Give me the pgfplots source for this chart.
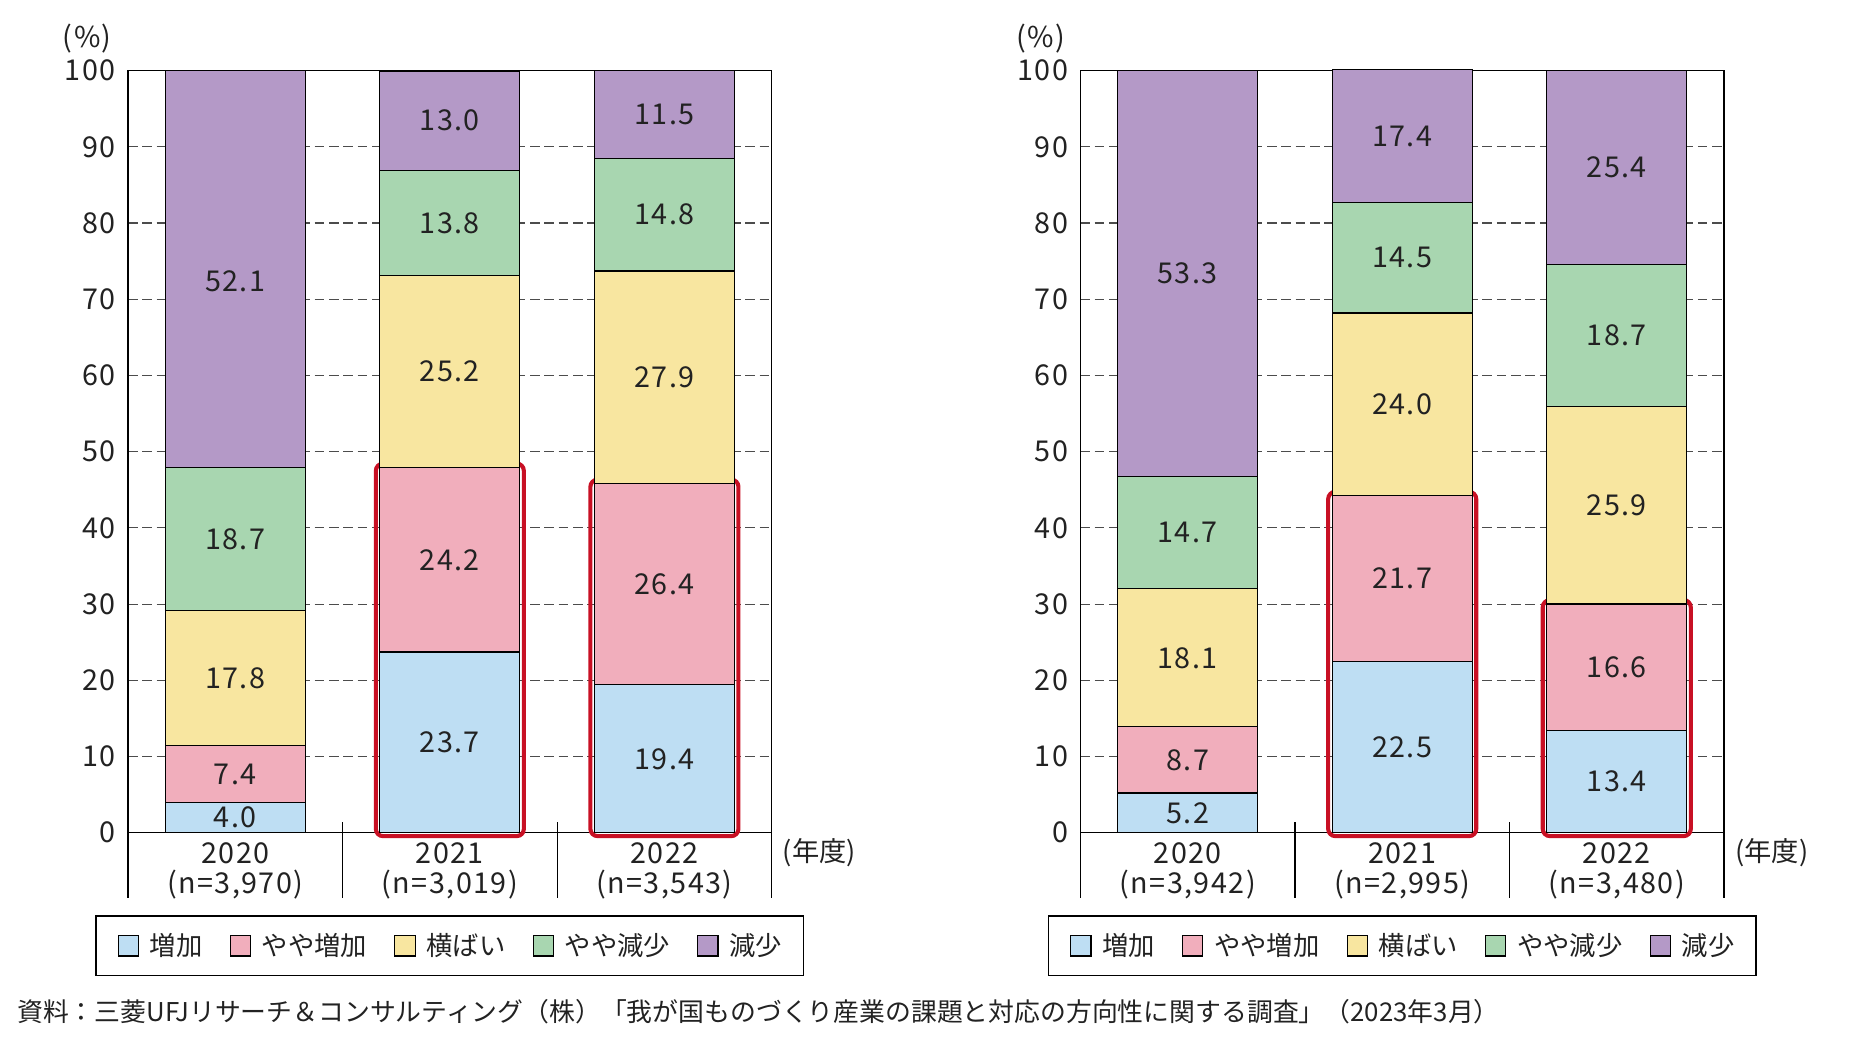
\documentclass[border=0pt]{standalone}
\usepackage{fontspec}
\setmainfont{Noto Sans CJK JP}
\newfontfamily\numfont[LetterSpace=5]{Noto Sans CJK JP}
\usepackage{pgfplots}
\pgfplotsset{compat=1.18}
\definecolor{cBlue}{HTML}{BEDEF3}
\definecolor{cPink}{HTML}{F1AEBC}
\definecolor{cYellow}{HTML}{F8E6A0}
\definecolor{cGreen}{HTML}{A8D6B0}
\definecolor{cPurple}{HTML}{B499C7}
\definecolor{cRed}{RGB}{200,16,36}
\definecolor{cText}{HTML}{222222}
\newcommand{\numfs}{\fontsize{12}{12.5}\numfont}
\tikzset{redbox/.style={draw=cRed, line width=1.7pt, rounded corners=3pt}}
\pgfplotsset{
  mystack/.style={
    scale only axis, width=269pt, height=318.5pt, anchor=south west,
    ybar stacked, bar width=58.5pt,
    xmin=-0.5, xmax=2.5, ymin=0, ymax=100,
    ytick={0,10,...,100}, xtick={0,1,2},
    major tick length=0pt,
    ymajorgrids, grid style={dash pattern=on 4pt off 2pt, line width=0.45pt, color=black!70},
    axis line style={line width=0.6pt},
    clip=false,
    /pgf/number format/assume math mode=true,
    yticklabel style={font=\numfs, text=cText, inner xsep=0pt, xshift=-5pt},
    xticklabel style={font=\numfs, text=cText, align=center, yshift=-0.5pt},
    every axis plot/.append style={draw=black, line width=0.5pt},
    legend columns=5,
    legend style={at={(0.5,-0.1484)}, anchor=center, draw=black, line width=0.6pt,
      font=\fontsize{11}{13}\selectfont, text=cText, inner xsep=9pt, inner ysep=5pt,
      nodes={inner xsep=0pt},
      /tikz/every odd column/.append style={column sep=4.5pt},
      /tikz/every even column/.append style={column sep=11.3pt}},
    legend image code/.code={\draw[#1, draw=black, line width=0.5pt] (0pt,-4.25pt) rectangle (8.5pt,4.25pt);},
    legend entries={増加,やや増加,横ばい,やや減少,減少},
  },
  labaxis/.style={
    scale only axis, width=269pt, height=318.5pt, anchor=south west,
    xmin=-0.5, xmax=2.5, ymin=0, ymax=100, hide axis, clip=false,
  },
  labplot/.style={
    only marks, mark=none, draw=none,
    nodes near coords, point meta=explicit symbolic,
    every node near coord/.append style={anchor=center, font=\numfs, text=cText, inner sep=0pt},
  },
}
\begin{document}
\begin{tikzpicture}
\useasboundingbox (0,0) rectangle (784pt,440.5pt);
% ---------------- left chart ----------------
\begin{axis}[mystack, at={(53.5pt,92.5pt)},
  xticklabels={{2020\\(n=3,970)},{2021\\(n=3,019)},{2022\\(n=3,543)}}]
\addplot[fill=cBlue] coordinates {(0,4.0) (1,23.7) (2,19.4)};
\addplot[fill=cPink] coordinates {(0,7.4) (1,24.2) (2,26.4)};
\addplot[fill=cYellow] coordinates {(0,17.8) (1,25.2) (2,27.9)};
\addplot[fill=cGreen] coordinates {(0,18.7) (1,13.8) (2,14.8)};
\addplot[fill=cPurple] coordinates {(0,52.1) (1,13.0) (2,11.5)};
\draw[line width=0.6pt] (axis cs:-0.5,0) -- (axis cs:-0.5,-8.57);
\draw[line width=0.6pt] (axis cs:2.5,0) -- (axis cs:2.5,-8.57);
\draw[line width=0.5pt] (axis cs:0.5,1.4) -- (axis cs:0.5,-8.57);
\draw[line width=0.5pt] (axis cs:1.5,1.4) -- (axis cs:1.5,-8.57);
\draw[redbox] (axis cs:0.655,-0.45) rectangle (axis cs:1.345,48.43);
\draw[redbox] (axis cs:1.655,-0.45) rectangle (axis cs:2.345,46.33);
\end{axis}
\begin{axis}[labaxis, at={(53.5pt,92.5pt)}]
\addplot[labplot] table[meta=lab] {
x y lab
0 2.0 4.0
0 7.7 7.4
0 20.3 17.8
0 38.55 18.7
0 72.4 52.1
1 11.85 23.7
1 35.8 24.2
1 60.5 25.2
1 80.0 13.8
1 93.5 13.0
2 9.7 19.4
2 32.6 26.4
2 59.75 27.9
2 81.1 14.8
2 94.25 11.5
};
\end{axis}
% ---------------- right chart ----------------
\begin{axis}[mystack, at={(451.5pt,92.5pt)},
  xticklabels={{2020\\(n=3,942)},{2021\\(n=2,995)},{2022\\(n=3,480)}}]
\addplot[fill=cBlue] coordinates {(0,5.2) (1,22.5) (2,13.4)};
\addplot[fill=cPink] coordinates {(0,8.7) (1,21.7) (2,16.6)};
\addplot[fill=cYellow] coordinates {(0,18.1) (1,24.0) (2,25.9)};
\addplot[fill=cGreen] coordinates {(0,14.7) (1,14.5) (2,18.7)};
\addplot[fill=cPurple] coordinates {(0,53.3) (1,17.4) (2,25.4)};
\draw[line width=0.6pt] (axis cs:-0.5,0) -- (axis cs:-0.5,-8.57);
\draw[line width=0.6pt] (axis cs:2.5,0) -- (axis cs:2.5,-8.57);
\draw[line width=0.5pt] (axis cs:0.5,1.4) -- (axis cs:0.5,-8.57);
\draw[line width=0.5pt] (axis cs:1.5,1.4) -- (axis cs:1.5,-8.57);
\draw[redbox] (axis cs:0.655,-0.45) rectangle (axis cs:1.345,44.73);
\draw[redbox] (axis cs:1.655,-0.45) rectangle (axis cs:2.345,30.53);
\end{axis}
\begin{axis}[labaxis, at={(451.5pt,92.5pt)}]
\addplot[labplot] table[meta=lab] {
x y lab
0 2.6 5.2
0 9.55 8.7
0 22.95 18.1
0 39.35 14.7
0 73.35 53.3
1 11.25 22.5
1 33.35 21.7
1 56.2 24.0
1 75.45 14.5
1 91.35 17.4
2 6.7 13.4
2 21.7 16.6
2 42.95 25.9
2 65.25 18.7
2 87.3 25.4
};
\end{axis}
% ---------------- texts ----------------
\node[font=\numfs, text=cText] at (36.5pt,424.5pt) {(\%)};
\node[font=\numfs, text=cText] at (435pt,424.5pt) {(\%)};
\node[font=\fontsize{11.4}{12.5}\selectfont, text=cText, anchor=west, inner sep=0pt] at (327pt,84pt) {(年度)};
\node[font=\fontsize{11.4}{12.5}\selectfont, text=cText, anchor=west, inner sep=0pt] at (725pt,84pt) {(年度)};
\node[anchor=west, font=\fontsize{10.8}{12}\selectfont, text=cText, inner sep=0pt] at (7pt,17.5pt)
  {資料：三菱UFJリサーチ＆コンサルティング（株）「我が国ものづくり産業の課題と対応の方向性に関する調査」（2023年3月）};
\end{tikzpicture}
\end{document}
